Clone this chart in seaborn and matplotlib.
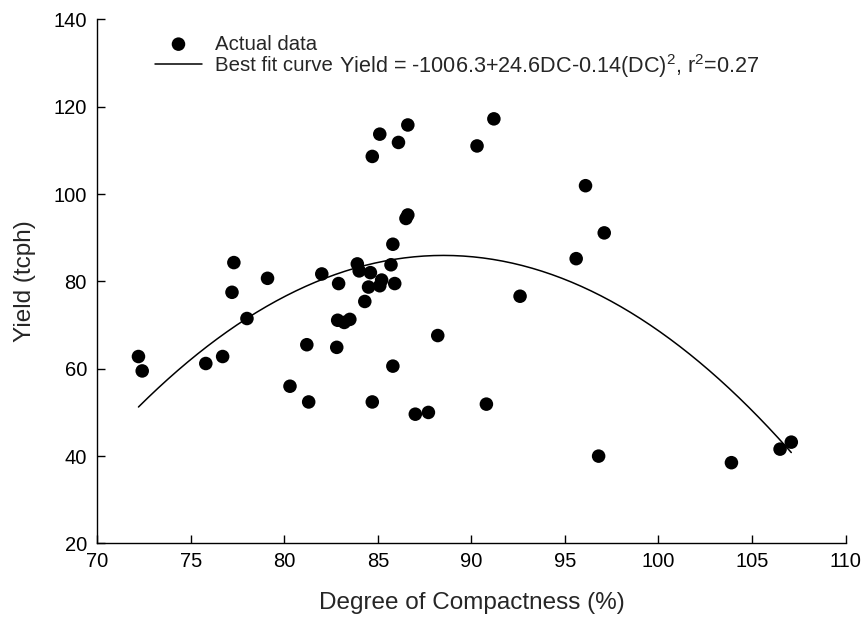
import numpy as np
import pandas as pd
import seaborn as sns
import matplotlib.pyplot as plt

# Data
dc = [72.2, 72.4, 75.8, 76.7, 77.2, 77.3, 78.0, 79.1, 80.3, 81.2,
      81.3, 82.0, 82.8, 82.85, 82.9, 83.2, 83.5, 83.9, 84.0, 84.3,
      84.5, 84.6, 84.7, 84.7, 85.1, 85.1, 85.2, 85.7, 85.8, 85.8,
      85.9, 86.1, 86.5, 86.6, 86.6, 87.0, 87.7, 88.2, 90.3, 90.8,
      91.2, 92.6, 95.6, 96.1, 96.8, 97.1, 103.9, 106.5, 107.1]
yield_tcph = [62.8, 59.5, 61.2, 62.8, 77.5, 84.3, 71.5, 80.7, 56.0, 65.5,
              52.4, 81.7, 64.9, 71.1, 79.5, 70.6, 71.3, 84.0, 82.4, 75.4,
              78.7, 82.0, 108.6, 52.4, 113.7, 79.0, 80.3, 83.8, 88.5, 60.6,
              79.5, 111.8, 94.4, 95.2, 115.8, 49.6, 50.0, 67.6, 111.0, 51.9,
              117.2, 76.6, 85.2, 101.9, 40.0, 91.1, 38.5, 41.6, 43.2]

# best fit curve as drawn (quadratic), and its x range
fit_coef = [-0.1305, 23.10, -936.3]
fit_range = [72.2, 107.1]

df = pd.DataFrame({'DC': dc, 'Yield': yield_tcph})
xs = np.linspace(fit_range[0], fit_range[1], 200)
df_fit = pd.DataFrame({'DC': xs, 'Yield': np.polyval(fit_coef, xs)})

sns.set_style('ticks')
plt.rcParams.update({'font.family': ['Liberation Sans', 'DejaVu Sans'],
                     'mathtext.fontset': 'custom',
                     'mathtext.rm': 'Liberation Sans',
                     'mathtext.default': 'regular'})

fig = plt.figure(figsize=(8.65, 6.21), dpi=100)
ax = fig.add_axes([0.1125, 0.1248, 0.865, 0.8442])

sns.lineplot(df_fit, x='DC', y='Yield', color='black', linewidth=1.1, ax=ax,
             label='Best fit curve', sort=False)
sns.scatterplot(df, x='DC', y='Yield', color='black', s=95, edgecolor='none',
                ax=ax, label='Actual data', zorder=3)

ax.set_xlim(70, 110)
ax.set_ylim(20, 140)
ax.set_xticks(range(70, 111, 5))
ax.set_yticks(range(20, 141, 20))
ax.tick_params(direction='in', length=6, width=1, labelsize=14.5, colors='black')
ax.tick_params(axis='y', pad=7.5)
ax.tick_params(axis='x', pad=6)
sns.despine(ax=ax)
for s in ['left', 'bottom']:
    ax.spines[s].set_linewidth(1)
    ax.spines[s].set_color('black')

ax.set_xlabel('Degree of Compactness (%)', fontsize=17.5)
ax.set_ylabel('Yield (tcph)', fontsize=17.5)
ax.xaxis.set_label_coords(0.5, -0.114)
ax.xaxis.label.set_va('center')
ax.yaxis.set_label_coords(-0.096, 0.5)
ax.yaxis.label.set_va('center')

handles, labels = ax.get_legend_handles_labels()
order = [labels.index('Actual data'), labels.index('Best fit curve')]
ax.legend([handles[i] for i in order], [labels[i] for i in order],
          loc='upper left', bbox_to_anchor=(155 / 865, 1 - 34.5 / 621),
          bbox_transform=fig.transFigure, frameon=False,
          fontsize=14.7, handlelength=2.3, handletextpad=0.62,
          labelspacing=0.14, borderaxespad=0, borderpad=0)
ax.text(339 / 865, 1 - 66 / 621,
        'Yield = -1006.3+24.6DC-0.14(DC)$^2$, r$^2$=0.27',
        transform=fig.transFigure, fontsize=15.6, va='center', ha='left')

plt.savefig('out.png', dpi=100)
